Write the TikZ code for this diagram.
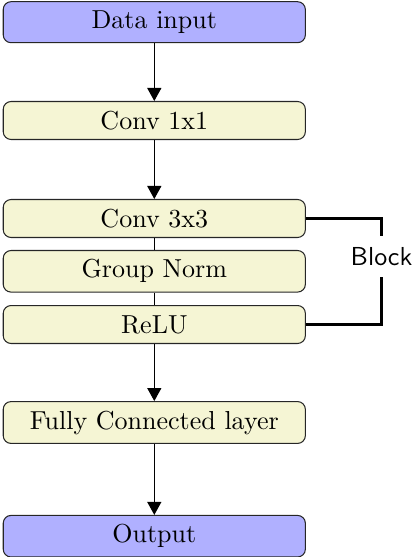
\documentclass[tikz,border=0pt]{standalone}
\usetikzlibrary{arrows.meta}
\definecolor{ioblue}{RGB}{176,176,255}
\definecolor{layeryellow}{RGB}{245,245,212}
\begin{document}
\begin{tikzpicture}[x=0.3846pt,y=-0.3846pt,
  box/.style={draw=black!85, rounded corners=3pt, minimum width=116.2pt,
    minimum height=14.6pt, inner xsep=3.5pt, inner ysep=3.5pt, line width=0.4pt},
  iobox/.style={box, fill=ioblue},
  layerbox/.style={box, fill=layeryellow},
  flow/.style={line width=0.45pt, -{Triangle[length=5pt,width=5.4pt]}},
  link/.style={line width=0.45pt},
  bracket/.style={line width=0.8pt}]
\useasboundingbox (0,0) rectangle (414,557);
\node[iobox] (in) at (154.3,22.2) {Data input};
\node[layerbox] (c1) at (154.3,120.5) {Conv 1x1};
\node[layerbox] (c3) at (154.3,218.5) {Conv 3x3};
\node[layerbox] (gn) at (154.3,271.3) {Group Norm};
\node[layerbox] (relu) at (154.3,324.5) {ReLU};
\node[layerbox] (fc) at (154.3,422.5) {Fully Connected layer};
\node[iobox] (out) at (154.3,536.2) {Output};
\node[font=\sffamily, inner sep=4pt] (blk) at (381.5,256.5) {Block};
\draw[flow] (in) -- (c1);
\draw[flow] (c1) -- (c3);
\draw[link] (c3) -- (gn);
\draw[link] (gn) -- (relu);
\draw[flow] (relu) -- (fc);
\draw[flow] (fc) -- (out);
\draw[bracket] (c3.east) -| (blk.north);
\draw[bracket] (relu.east) -| (blk.south);
\end{tikzpicture}
\end{document}
